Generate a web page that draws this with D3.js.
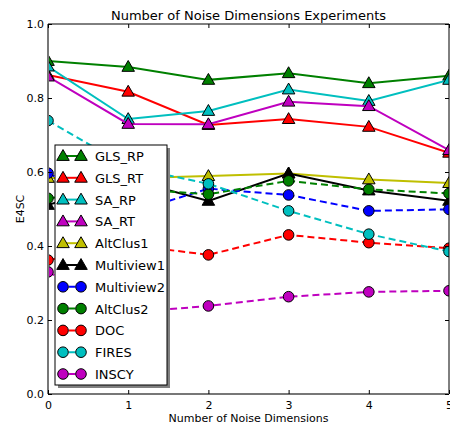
<!DOCTYPE html>
<html>
<head>
<meta charset="utf-8">
<script src="https://cdn.jsdelivr.net/npm/d3@7"></script>
<style>
  html, body { margin: 0; padding: 0; background: #fff; }
  svg { display: block; font-family: "DejaVu Sans", sans-serif; }
</style>
</head>
<body>
<svg id="chart" width="450" height="428"></svg>
<script>
// Noise dimensions on the x axis
const noiseDims = [0, 1, 2, 3, 4, 5];
const xTicks = [0, 1, 2, 3, 4, 5];
const yTicks = [0.0, 0.2, 0.4, 0.6, 0.8, 1.0];

// E4SC score per method, one value per noise dimension count
const GLS_RP     = [0.900, 0.884, 0.849, 0.867, 0.840, 0.860];
const GLS_RT     = [0.862, 0.817, 0.727, 0.743, 0.722, 0.652];
const SA_RP      = [0.885, 0.743, 0.765, 0.823, 0.792, 0.849];
const SA_RT      = [0.858, 0.730, 0.729, 0.790, 0.778, 0.659];
const AltClus1   = [0.584, 0.583, 0.589, 0.596, 0.580, 0.570];
const Multiview1 = [0.511, 0.580, 0.522, 0.596, 0.550, 0.522];
const Multiview2 = [0.597, 0.488, 0.555, 0.538, 0.495, 0.499];
const AltClus2   = [0.529, 0.555, 0.540, 0.576, 0.553, 0.542];
const DOC        = [0.362, 0.403, 0.376, 0.430, 0.409, 0.394];
const FIRES      = [0.739, 0.614, 0.568, 0.495, 0.432, 0.385];
const INSCY      = [0.330, 0.220, 0.238, 0.263, 0.276, 0.279];

const methodNames = ["GLS_RP", "GLS_RT", "SA_RP", "SA_RT", "AltClus1", "Multiview1",
                     "Multiview2", "AltClus2", "DOC", "FIRES", "INSCY"];
const methodValues = [GLS_RP, GLS_RT, SA_RP, SA_RT, AltClus1, Multiview1,
                      Multiview2, AltClus2, DOC, FIRES, INSCY];
const methodColors = ["#008000", "#ff0000", "#00bfbf", "#bf00bf", "#bfbf00", "#000000",
                      "#0000ff", "#008000", "#ff0000", "#00bfbf", "#bf00bf"];
const methodMarkers = ["triangle", "triangle", "triangle", "triangle", "triangle", "triangle",
                       "circle", "circle", "circle", "circle", "circle"];
const methodDashed = [false, false, false, false, false, false, true, true, true, true, true];

const series = methodNames.map((name, i) => ({
  name, values: methodValues[i], color: methodColors[i],
  marker: methodMarkers[i], dashed: methodDashed[i]
}));

const svg = d3.select("#chart");
const plot = { left: 48, right: 449, top: 24, bottom: 394 };

const x = d3.scaleLinear().domain([0, 5]).range([plot.left, plot.right]);
const y = d3.scaleLinear().domain([0, 1]).range([plot.bottom, plot.top]);

svg.append("defs").append("clipPath").attr("id", "plotClip")
  .append("rect")
  .attr("x", plot.left).attr("y", plot.top)
  .attr("width", plot.right - plot.left).attr("height", plot.bottom - plot.top);

const triangle = d3.symbol().type(d3.symbolTriangle).size(68);
const circle = d3.symbol().type(d3.symbolCircle).size(88);

function drawMarker(g, kind, color, cx, cy) {
  if (kind === "triangle") {
    g.append("path")
      .attr("d", triangle())
      .attr("transform", `translate(${cx},${cy + 0.8})`)
      .attr("fill", color).attr("stroke", "#000").attr("stroke-width", 1);
  } else {
    g.append("path")
      .attr("d", circle())
      .attr("transform", `translate(${cx},${cy})`)
      .attr("fill", color).attr("stroke", "#000").attr("stroke-width", 1);
  }
}

// Data lines and markers, clipped to the axes
const marks = svg.append("g").attr("clip-path", "url(#plotClip)");
const line = d3.line().x((d, i) => x(noiseDims[i])).y(d => y(d));

series.forEach(s => {
  const g = marks.append("g");
  g.append("path")
    .attr("d", line(s.values))
    .attr("fill", "none")
    .attr("stroke", s.color)
    .attr("stroke-width", 2)
    .attr("stroke-dasharray", s.dashed ? "7,4" : null);
  s.values.forEach((v, i) => drawMarker(g, s.marker, s.color, x(noiseDims[i]), y(v)));
});

// Axes frame: inward ticks on all four sides
const tickLen = 4;
const frame = svg.append("g");
frame.append("line").attr("x1", plot.left).attr("x2", plot.right)
  .attr("y1", plot.top).attr("y2", plot.top).attr("stroke", "#000").attr("stroke-width", 1);
frame.append("line").attr("x1", plot.right).attr("x2", plot.right)
  .attr("y1", plot.top).attr("y2", plot.bottom).attr("stroke", "#000").attr("stroke-width", 1);
frame.append("line").attr("x1", plot.left).attr("x2", plot.left)
  .attr("y1", plot.top).attr("y2", plot.bottom).attr("stroke", "#777").attr("stroke-width", 2);
frame.append("line").attr("x1", plot.left).attr("x2", plot.right)
  .attr("y1", plot.bottom).attr("y2", plot.bottom).attr("stroke", "#777").attr("stroke-width", 2);

const xAxis = svg.append("g").attr("transform", `translate(0,${plot.bottom})`)
  .call(d3.axisBottom(x).tickValues(xTicks).tickFormat(d3.format("d"))
    .tickSizeInner(-tickLen).tickSizeOuter(0).tickPadding(7));
const xAxisTop = svg.append("g").attr("transform", `translate(0,${plot.top})`)
  .call(d3.axisTop(x).tickValues(xTicks).tickFormat("")
    .tickSizeInner(-tickLen).tickSizeOuter(0));
const yAxis = svg.append("g").attr("transform", `translate(${plot.left},0)`)
  .call(d3.axisLeft(y).tickValues(yTicks).tickFormat(d3.format(".1f"))
    .tickSizeInner(-tickLen).tickSizeOuter(0).tickPadding(4));
const yAxisRight = svg.append("g").attr("transform", `translate(${plot.right},0)`)
  .call(d3.axisRight(y).tickValues(yTicks).tickFormat("")
    .tickSizeInner(-tickLen).tickSizeOuter(0));

[xAxis, xAxisTop, yAxis, yAxisRight].forEach(a => {
  a.select(".domain").remove();
  a.selectAll(".tick line").attr("stroke", "#000");
  a.selectAll("text").attr("font-family", "DejaVu Sans").attr("font-size", 11).attr("fill", "#000");
});

// Titles
svg.append("text")
  .attr("x", (plot.left + plot.right) / 2).attr("y", 20)
  .attr("text-anchor", "middle").attr("font-size", 13)
  .text("Number of Noise Dimensions Experiments");
svg.append("text")
  .attr("x", (plot.left + plot.right) / 2).attr("y", 422)
  .attr("text-anchor", "middle").attr("font-size", 11)
  .text("Number of Noise Dimensions");
svg.append("text")
  .attr("transform", `translate(24,${(plot.top + plot.bottom) / 2}) rotate(-90)`)
  .attr("text-anchor", "middle").attr("font-size", 11)
  .text("E4SC");

// Legend with drop shadow
const legend = { x: 55, y: 145, w: 112, h: 240, rowH: 21.8, first: 11 };
svg.append("rect")
  .attr("x", legend.x + 3).attr("y", legend.y + 3)
  .attr("width", legend.w).attr("height", legend.h)
  .attr("fill", "#808080");
svg.append("rect")
  .attr("x", legend.x).attr("y", legend.y)
  .attr("width", legend.w).attr("height", legend.h)
  .attr("fill", "#fff").attr("stroke", "#000").attr("stroke-width", 1);

series.forEach((s, i) => {
  const cy = legend.y + legend.first + i * legend.rowH;
  const g = svg.append("g");
  const x1 = legend.x + 8, x2 = legend.x + 26;
  g.append("line")
    .attr("x1", x1).attr("x2", x2).attr("y1", cy).attr("y2", cy)
    .attr("stroke", s.color).attr("stroke-width", 2)
    .attr("stroke-dasharray", s.dashed ? "7,4" : null)
    .attr("stroke-dashoffset", s.dashed ? -5.5 : null);
  drawMarker(g, s.marker, s.color, x1, cy);
  drawMarker(g, s.marker, s.color, x2, cy);
  g.append("text")
    .attr("x", legend.x + 40).attr("y", cy + 5)
    .attr("font-size", 13)
    .text(s.name);
});
</script>
</body>
</html>
